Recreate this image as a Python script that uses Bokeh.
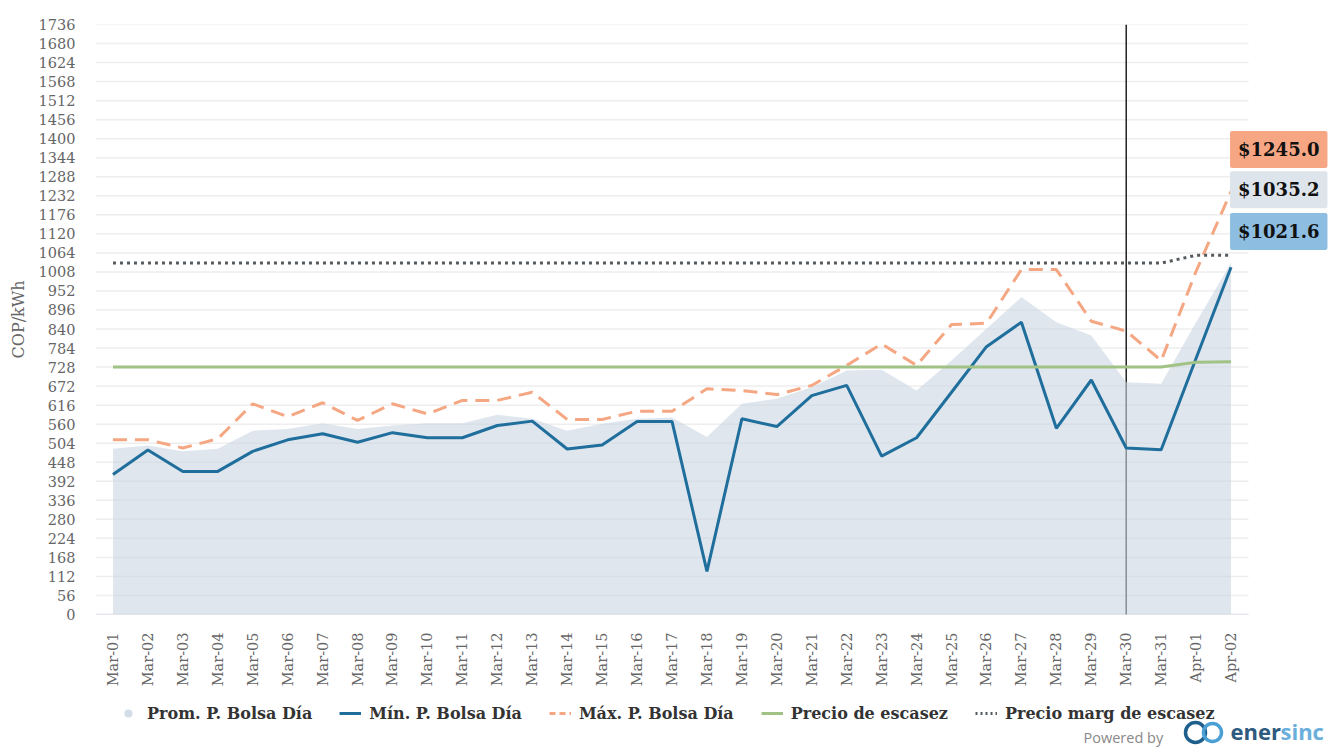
from bokeh.plotting import figure
from bokeh.layouts import column
from bokeh.models import Range1d, FixedTicker, Legend, LegendItem, Label
from bokeh.core.properties import value
from bokeh.embed import file_html
from bokeh.resources import INLINE
import math

# ---------------- data ----------------
dates = ["Mar-01", "Mar-02", "Mar-03", "Mar-04", "Mar-05", "Mar-06", "Mar-07", "Mar-08",
         "Mar-09", "Mar-10", "Mar-11", "Mar-12", "Mar-13", "Mar-14", "Mar-15", "Mar-16",
         "Mar-17", "Mar-18", "Mar-19", "Mar-20", "Mar-21", "Mar-22", "Mar-23", "Mar-24",
         "Mar-25", "Mar-26", "Mar-27", "Mar-28", "Mar-29", "Mar-30", "Mar-31", "Apr-01", "Apr-02"]

prom = [488, 497, 480, 488, 541, 546, 563, 546, 556, 563, 563, 588, 576, 541, 561, 576,
        580, 522, 620, 635, 669, 718, 720, 659, 747, 841, 934, 860, 821, 683, 679, 860, 1035.2]

minimo = [412, 484, 421, 421, 480, 514, 532, 507, 535, 520, 520, 556, 569, 487, 499, 568,
          568, 127, 576, 553, 644, 674, 466, 520, 654, 788, 860, 548, 690, 490, 485, 754, 1021.6]

maximo = [514, 514, 490, 517, 620, 582, 623, 571, 620, 590, 630, 630, 654, 574, 574, 598,
          598, 664, 659, 647, 674, 733, 796, 733, 853, 857, 1015, 1015, 863, 834, 747, 1010, 1245.0]

escasez = [728] * 31 + [742, 744]
marg_escasez = [1034] * 31 + [1057, 1057]

y_ticks = list(range(0, 1737, 56))
marker_date = "Mar-30"

series_names = ["Prom. P. Bolsa Día", "Mín. P. Bolsa Día", "Máx. P. Bolsa Día",
                "Precio de escasez", "Precio marg de escasez"]

# ---------------- styles / layout ----------------
FONT = "DejaVu Serif"
C_AREA, C_MIN, C_MAX, C_ESC, C_MARG = "#c9d6e3", "#1f6e9c", "#f4a782", "#a0c285", "#555a5e"
W = 1337
LEFT, TOP, FRAME_H, BOTTOM = 95, 24, 590, 76
FRAME_W = W - LEFT
UNIT_PX = 34.94  # pixel width of one day

xs = list(range(len(dates)))
x_start = -0.5
x_end = x_start + FRAME_W / UNIT_PX
data_end = len(dates) - 0.5

p = figure(x_range=Range1d(x_start, x_end), y_range=Range1d(0, y_ticks[-1]),
           frame_width=FRAME_W, frame_height=FRAME_H,
           min_border_left=LEFT, min_border_right=0, min_border_top=TOP, min_border_bottom=BOTTOM,
           output_backend="svg", toolbar_location=None, background_fill_color="white",
           border_fill_color="white", outline_line_color=None)

p.xgrid.grid_line_color = None
p.ygrid.grid_line_color = None

# horizontal grid lines only across the data span
p.segment(x0=[x_start] * len(y_ticks), y0=y_ticks, x1=[data_end] * len(y_ticks), y1=y_ticks,
          line_color="#eeeeee", line_width=1.5)
# bottom axis line
p.segment(x0=[x_start], y0=[0], x1=[data_end], y1=[0], line_color="#d4dae3", line_width=1.5)

p.yaxis.ticker = FixedTicker(ticks=y_ticks)
p.xaxis.ticker = FixedTicker(ticks=xs)
p.xaxis.major_label_overrides = {i: d for i, d in enumerate(dates)}

for ax in (p.xaxis, p.yaxis):
    ax.axis_line_color = None
    ax.major_tick_line_color = None
    ax.minor_tick_line_color = None
    ax.major_tick_out = 0
    ax.major_tick_in = 0
    ax.major_label_text_font = FONT
    ax.major_label_text_font_size = "14.5px"
    ax.major_label_text_color = "#666666"
p.yaxis.major_label_standoff = 20
p.yaxis.axis_label = "COP/kWh"
p.yaxis.axis_label_text_font = FONT
p.yaxis.axis_label_text_font_size = "16px"
p.yaxis.axis_label_text_font_style = "normal"
p.yaxis.axis_label_text_color = "#666666"
p.yaxis.axis_label_standoff = 8
p.xaxis.major_label_orientation = math.pi / 2
p.xaxis.major_label_standoff = 18

# vertical marker (below the area so it turns grey inside it)
mx = dates.index(marker_date)
p.segment(x0=[mx], y0=[0], x1=[mx], y1=[y_ticks[-1]], line_color="#222222", line_width=1.5)

p.varea(x=xs, y1=[0] * len(xs), y2=prom, fill_color=C_AREA, fill_alpha=0.6)
p.line(xs, minimo, line_color=C_MIN, line_width=3)
p.line(xs, maximo, line_color=C_MAX, line_width=3, line_dash="14 8")
p.line(xs, escasez, line_color=C_ESC, line_width=3)
p.line(xs, marg_escasez, line_color=C_MARG, line_width=3, line_dash="3 4")

# value boxes at the last date
last = len(dates) - 1
box_specs = [
    (maximo[last], "#f7a684", 1368),
    (prom[last], "#dde4eb", 1250),
    (minimo[last], "#8dbde0", 1127),
]
for val, col, ypos in box_specs:
    p.add_layout(Label(x=last, y=ypos, x_offset=-1, text=f"${val:.1f}",
                       text_font=FONT, text_font_size="18px", text_font_style="bold",
                       text_color="#111111", text_align="left", text_baseline="middle",
                       background_fill_color=col, padding=8, border_radius=2))

# ---------------- legend strip (frame aligned with the chart's frame) ----------------
LEG_H = 747 - (TOP + FRAME_H + BOTTOM)
q = figure(frame_width=FRAME_W, frame_height=LEG_H,
           x_range=Range1d(LEFT, W), y_range=Range1d(0, LEG_H),
           min_border=0, min_border_left=LEFT, min_border_right=0,
           x_axis_location=None, y_axis_location=None,
           output_backend="svg", toolbar_location=None,
           outline_line_color=None, background_fill_color="white", border_fill_color="white")
q.grid.visible = False

nan = [float("nan")]
r_prom = q.scatter(x=nan, y=nan, size=18, marker="circle", fill_color="#d3dde7", line_color=None)
r_min = q.line(x=nan, y=nan, line_color=C_MIN, line_width=3)
r_max = q.line(x=nan, y=nan, line_color=C_MAX, line_width=3, line_dash="6 4")
r_esc = q.line(x=nan, y=nan, line_color=C_ESC, line_width=3)
r_marg = q.line(x=nan, y=nan, line_color=C_MARG, line_width=3, line_dash="2 3")

legend = Legend(items=[LegendItem(label=n, renderers=[r]) for n, r in
                       zip(series_names, [r_prom, r_min, r_max, r_esc, r_marg])],
                orientation="horizontal", location=(117 - LEFT, 24))
legend.label_text_font = FONT
legend.label_text_font_size = "16px"
legend.label_text_font_style = "bold"
legend.label_text_color = "#333333"
legend.glyph_width = 22
legend.glyph_height = 20
legend.spacing = 27
legend.label_standoff = 8
legend.border_line_color = None
legend.background_fill_alpha = 0
legend.padding = 2
legend.margin = 0
q.add_layout(legend, "center")

# "Powered by" branding
q.text(x=[1083], y=[10], text=["Powered by"], text_font=value("Open Sans"),
       text_font_size="14.5px", text_color="#888888", text_baseline="middle")
q.scatter(x=[1195, 1212], y=[15, 15], size=[20, 18], marker="circle", fill_color=None,
          line_color=["#1f5f8b", "#4a9fd4"], line_width=3.5)
q.text(x=[1230], y=[17], text=["ener"], text_font=value("Open Sans"), text_font_style="bold",
       text_font_size="22px", text_color="#2d5a7e", text_baseline="middle")
q.text(x=[1280], y=[17], text=["sinc"], text_font=value("Open Sans"), text_font_style="bold",
       text_font_size="22px", text_color="#6aaedb", text_baseline="middle")

open("out.html", "w").write(file_html(column(p, q, spacing=0), INLINE))
